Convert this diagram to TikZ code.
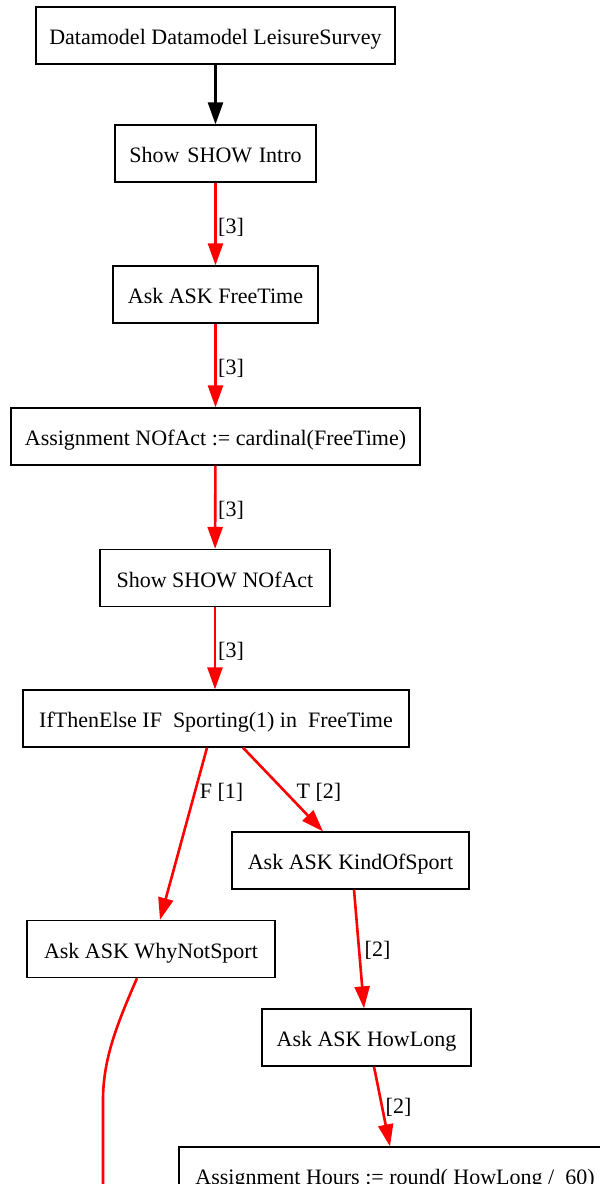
\documentclass[tikz,border=0pt]{standalone}
\usepackage{fontspec}
\setmainfont{Liberation Serif}
\usetikzlibrary{arrows.meta,calc}
\begin{document}
\begin{tikzpicture}[x=1pt,y=-1pt,
  stepbox/.style={draw=black,line width=1.3pt,minimum height=57pt,inner sep=0pt,
    text height=20pt,text depth=1.4pt,font=\fontsize{22}{26}\selectfont},
  flow/.style={line width=2.6pt,-{Triangle[length=22pt,width=15pt]}},
  redflow/.style={flow,draw=red,color=red},
  lbl/.style={inner sep=0pt,font=\fontsize{22}{26}\selectfont}]
\useasboundingbox (0,0) rectangle (600,1184);
\clip (0,0) rectangle (600,1184);

% statement nodes
\node[stepbox,minimum width=359pt] (dm) at (215.5,35.5) {Datamodel Datamodel LeisureSurvey};
\node[stepbox,minimum width=201pt] (intro) at (215.5,153.5) {Show\hspace{0.36em}SHOW\hspace{0.3em}Intro};
\node[stepbox,minimum width=205pt] (ft) at (215.5,294.5) {Ask ASK FreeTime};
\node[stepbox,minimum width=409pt] (nofact) at (215.5,436.5) {Assignment NOfAct := cardinal(FreeTime)};
\node[stepbox,minimum width=230pt] (shownofact) at (215,578) {Show SHOW NOfAct};
\node[stepbox,minimum width=386pt] (ifte) at (216,718.5) {IfThenElse IF\ \ Sporting(1) in\ \ FreeTime};
\node[stepbox,minimum width=237pt] (kos) at (350.5,860.5) {Ask ASK KindOfSport};
\node[stepbox,minimum width=248pt] (wns) at (151,949) {Ask ASK WhyNotSport};
\node[stepbox,minimum width=209pt] (hl) at (366.5,1037.5) {Ask ASK HowLong};
\node[stepbox,minimum width=432pt] (hrs) at (395,1175.5) {Assignment Hours := round( HowLong /\ \ 60)};

% connectors
\draw[flow] (dm) -- (intro);
\draw[redflow] (intro) -- (ft);
\draw[redflow] (ft) -- (nofact);
\draw[redflow] (nofact) -- (shownofact);
\draw[redflow] (shownofact.south) -- (shownofact.south |- ifte.north);
\draw[redflow] ($(ifte.south)+(-9,0)$) -- ($(wns.north)+(9,0)$);
\draw[redflow] ($(ifte.south)+(27,0)$) -- ($(kos.north)+(-27.5,0)$);
\draw[redflow] ($(kos.south)+(3.5,0)$) -- ($(hl.north)+(-2.5,0)$);
\draw[redflow] ($(hl.south)+(7.5,0)$) -- ($(hrs.north)+(-5,0)$);
\coordinate (wnsout) at (103,1200);
\draw[line width=2.6pt,red] ($(wns.south)+(-14,0)$) .. controls (118,1022) and (103,1058) .. (103,1100) -- (wnsout);

% connector labels
\node[lbl] (l1) at (231,227) {[3]};
\node[lbl] (l2) at (231,368) {[3]};
\node[lbl] (l3) at (231,510) {[3]};
\node[lbl] (l4) at (231,651) {[3]};
\node[lbl] (l5) at (221.5,792) {F [1]};
\node[lbl] (l6) at (319,792) {T [2]};
\node[lbl] (l7) at (377.5,950) {[2]};
\node[lbl] (l8) at (398.5,1107) {[2]};
\end{tikzpicture}
\end{document}
